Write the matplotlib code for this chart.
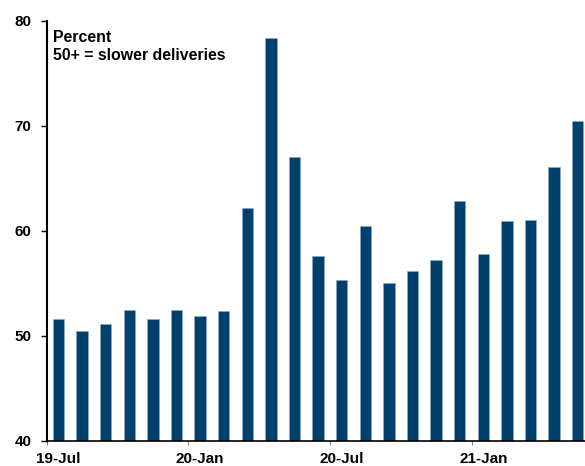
import numpy as np
import matplotlib
matplotlib.use('Agg')
import matplotlib.pyplot as plt

# Dados (mensal, 19-Jul a 21-May)
meses = ['19-Jul', '19-Aug', '19-Sep', '19-Oct', '19-Nov', '19-Dec',
         '20-Jan', '20-Feb', '20-Mar', '20-Apr', '20-May', '20-Jun',
         '20-Jul', '20-Aug', '20-Sep', '20-Oct', '20-Nov', '20-Dec',
         '21-Jan', '21-Feb', '21-Mar', '21-Apr', '21-May']
valores = [51.6, 50.5, 51.1, 52.5, 51.6, 52.5,
           51.9, 52.4, 62.2, 78.4, 67.0, 57.6,
           55.3, 60.5, 55.0, 56.2, 57.2, 62.8,
           57.8, 60.9, 61.0, 66.1, 70.5]
rotulos_x = ['19-Jul', '20-Jan', '20-Jul', '21-Jan']
y_ticks = [40, 50, 60, 70, 80]

plt.rcParams['font.family'] = ['Liberation Sans', 'DejaVu Sans']
plt.rcParams['font.weight'] = 'bold'

fig = plt.figure(figsize=(5.85, 4.66), dpi=100)
ax = fig.add_axes([0.0798, 0.0543, 0.928, 0.9007])

x = np.arange(len(valores))
ax.bar(x, valores, width=0.48, color='#00406F', edgecolor='#8fa8c2', linewidth=0.4)

ax.set_xlim(-0.5, len(valores) - 0.5)
ax.set_ylim(40, 80)
ax.set_yticks(y_ticks)
ax.set_yticklabels([str(v) for v in y_ticks], fontsize=11, fontweight='bold')

# rótulos no centro das barras, marcas entre categorias
pos_rotulos = [meses.index(r) for r in rotulos_x]
ax.set_xticks(pos_rotulos)
ax.set_xticklabels(rotulos_x, fontsize=11, fontweight='bold')
ax.tick_params(axis='x', which='major', length=0, pad=8)
ax.set_xticks([p - 0.5 for p in pos_rotulos], minor=True)
ax.tick_params(axis='x', which='minor', length=3, color='#808080', width=0.8)
ax.tick_params(axis='y', length=4, width=1, pad=7, direction='out')

for s in ['top', 'right']:
    ax.spines[s].set_visible(False)
ax.spines['left'].set_linewidth(1.5)
ax.spines['bottom'].set_linewidth(1.2)

ax.text(0.012, 0.978, 'Percent\n50+ = slower deliveries', transform=ax.transAxes,
        ha='left', va='top', fontsize=11.4, fontweight='bold', linespacing=1.2)

fig.savefig('out.png', dpi=100)
